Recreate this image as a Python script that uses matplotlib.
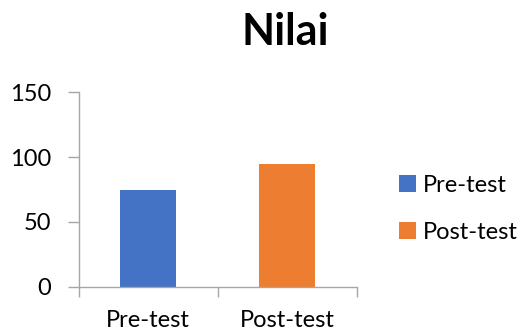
import matplotlib
matplotlib.use("Agg")
import matplotlib.pyplot as plt
from matplotlib.patches import Patch

categories = ["Pre-test", "Post-test"]
values = [75, 95]
colors = ["#4472C4", "#ED7D31"]
yticks = [0, 50, 100, 150]
title = "Nilai"

plt.rcParams["font.family"] = ["Lato", "DejaVu Sans"]

fig = plt.figure(figsize=(5.18, 3.32), dpi=100)
ax = fig.add_axes([0.152, 0.1364, 0.5366, 0.5856])

x = range(len(categories))
ax.bar(x, values, width=0.4, color=colors)
ax.set_xlim(-0.5, len(categories) - 0.5)
ax.set_ylim(0, 150)
ax.set_yticks(yticks)
ax.set_xticks(x)
ax.set_xticklabels(categories)
ax.tick_params(axis="y", labelsize=17, length=8, color="#A6A6A6", width=1, pad=12)
ax.tick_params(axis="x", bottom=False, labelsize=17, pad=13)
# category boundary ticks on the x axis
ax.set_xticks([-0.5, 0.5, 1.5], minor=True)
ax.tick_params(axis="x", which="minor", length=7, color="#A6A6A6", width=1)

for side in ("top", "right"):
    ax.spines[side].set_visible(False)
for side in ("left", "bottom"):
    ax.spines[side].set_color("#A6A6A6")
    ax.spines[side].set_linewidth(1)

fig.text(285 / 518, 1 - 45 / 332, title, ha="center", va="baseline",
         fontsize=31, fontweight="bold")

handles = [Patch(facecolor=c, edgecolor="none") for c in colors]
fig.legend(handles, categories, loc="center left",
           bbox_to_anchor=(399 / 518, 1 - 209 / 332), frameon=False,
           fontsize=17, handlelength=0.7, handleheight=0.7,
           handletextpad=0.3, labelspacing=1.1, borderaxespad=0,
           borderpad=0)

fig.savefig("out.png", dpi=100)
